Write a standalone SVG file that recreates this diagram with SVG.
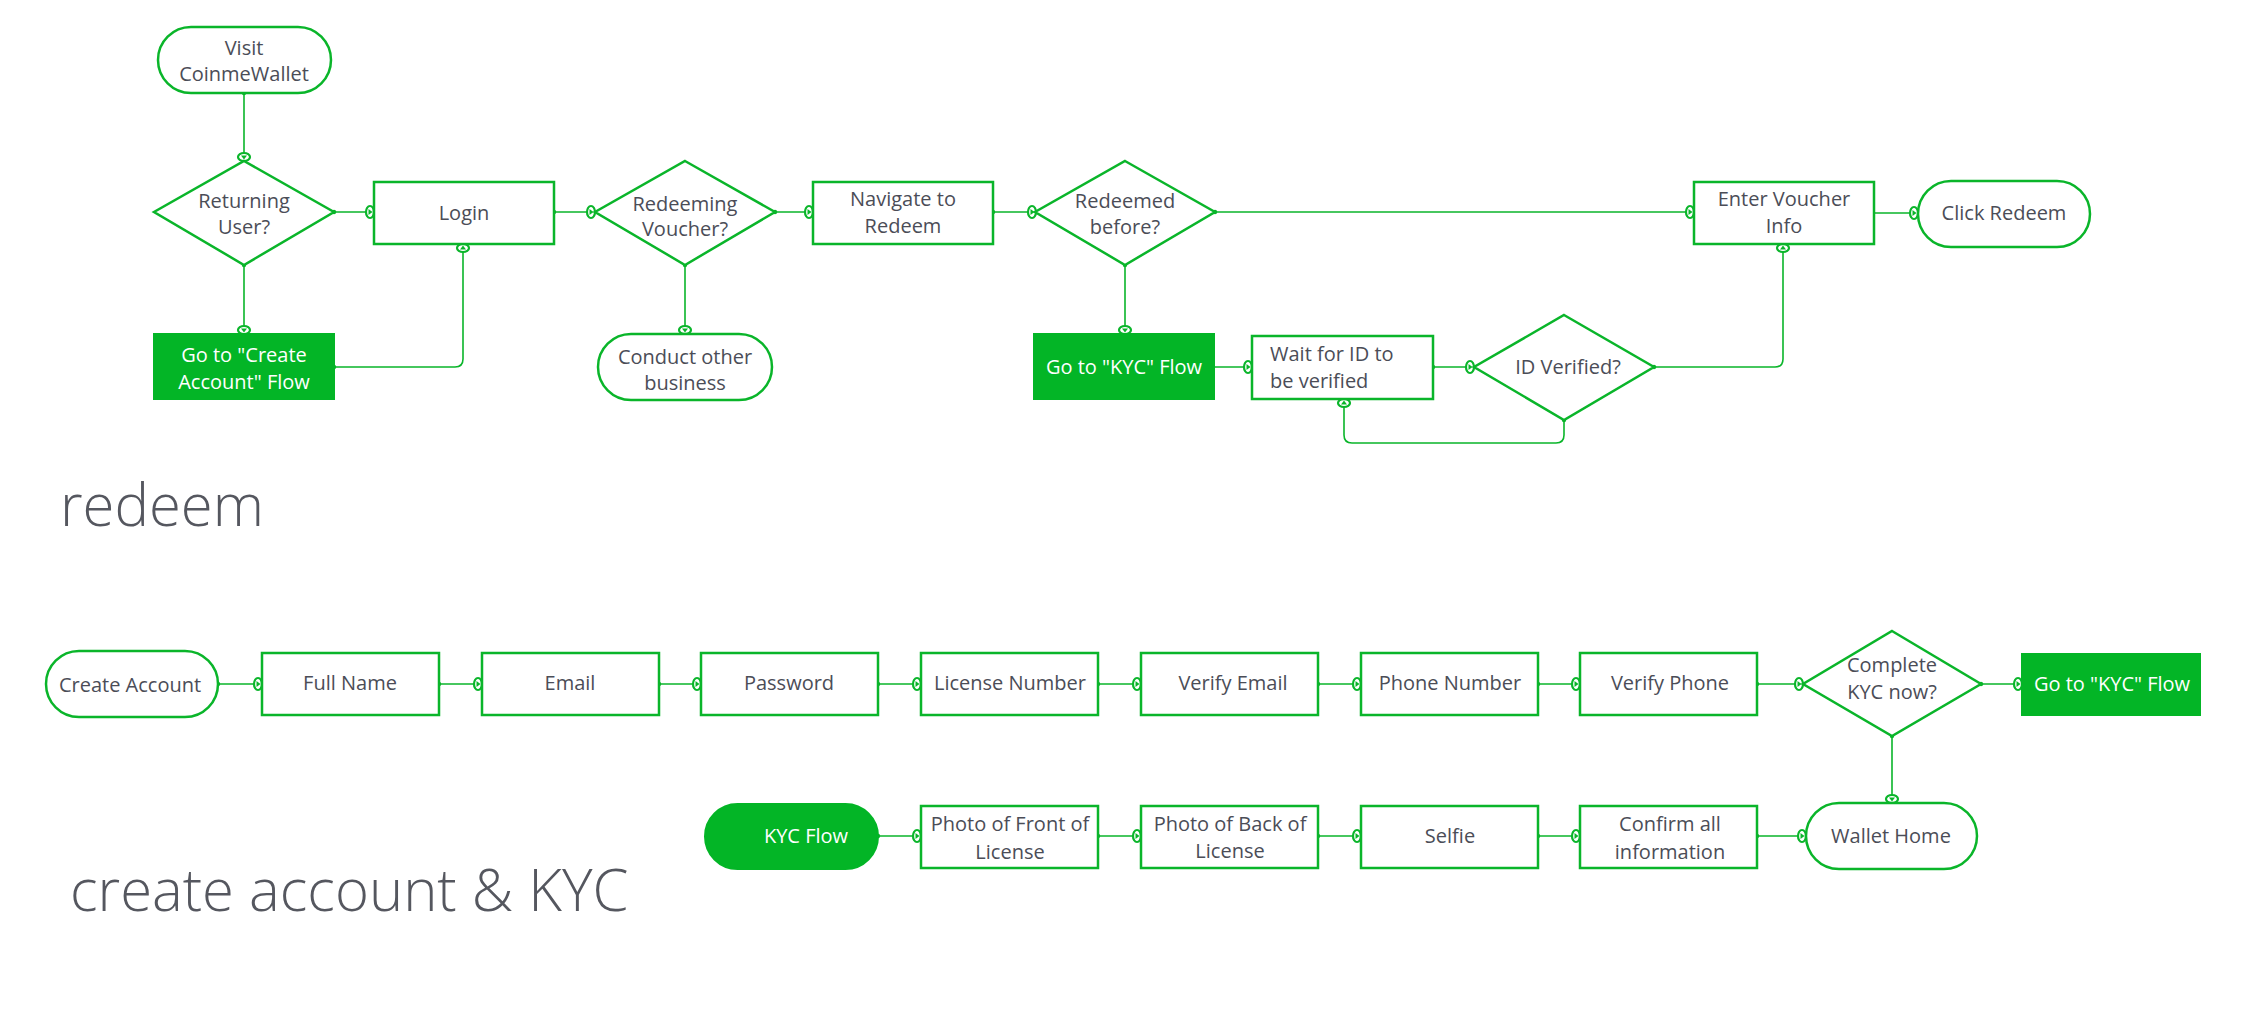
<svg xmlns="http://www.w3.org/2000/svg" width="2249" height="1019" viewBox="0 0 2249 1019">
<style>
.n{fill:#fff;stroke:#0ab52a;stroke-width:2.5}
.f{fill:#03b526;stroke:#03b526;stroke-width:2}
.t{font-family:"Open Sans","Liberation Sans",sans-serif;font-size:20px;fill:#4b4d57;text-anchor:middle}
.w{fill:#fff}
.h{font-family:"Open Sans","Liberation Sans",sans-serif;font-weight:300;font-size:58px;fill:#55575f}
#edges path{fill:none;stroke:#0ab52a;stroke-width:1.6;marker-start:url(#dot);marker-end:url(#arr)}
</style>
<defs>
<marker id="dot" viewBox="-3 -3 6 6" markerWidth="6" markerHeight="6" markerUnits="userSpaceOnUse" orient="auto"><circle r="2.2" fill="#0ab52a"/></marker>
<marker id="arr" viewBox="-8 -8 16 16" markerWidth="16" markerHeight="16" markerUnits="userSpaceOnUse" orient="auto" refX="0" refY="0"><ellipse cx="0" cy="0" rx="4" ry="6" fill="#fff" stroke="#0ab52a" stroke-width="2.2"/><path d="M-1.5,-3 L2.5,0 L-1.5,3 Z" fill="#0ab52a"/></marker>
</defs>
<g id="edges">
<path d="M244,93 V157"/>
<path d="M334,212 H370"/>
<path d="M244,265 V330"/>
<path d="M334,367 H455 Q463,367 463,359 V248"/>
<path d="M554,212 H591"/>
<path d="M685,265 V330"/>
<path d="M775,212 H809"/>
<path d="M993,212 H1032"/>
<path d="M1215,212 H1690"/>
<path d="M1125,265 V330"/>
<path d="M1213,367 H1248"/>
<path d="M1433,367 H1470"/>
<path d="M1654,367 H1775 Q1783,367 1783,359 V248"/>
<path d="M1564,420 V435 Q1564,443 1556,443 H1352 Q1344,443 1344,435 V403"/>
<path d="M1873,213 H1914"/>
<path d="M218,684 H258"/>
<path d="M439,684 H478"/>
<path d="M659,684 H697"/>
<path d="M878,684 H917"/>
<path d="M1098,684 H1137"/>
<path d="M1318,684 H1357"/>
<path d="M1538,684 H1576"/>
<path d="M1757,684 H1799"/>
<path d="M1981,684 H2018"/>
<path d="M1892,736 V799"/>
<path d="M878,836 H917"/>
<path d="M1098,836 H1137"/>
<path d="M1318,836 H1357"/>
<path d="M1538,836 H1576"/>
<path d="M1757,836 H1802"/>
</g>
<g id="visit"><rect class="n" x="158" y="27" width="173" height="66" rx="33"/><text class="t" x="244" y="55">Visit</text><text class="t" x="244" y="81">CoinmeWallet</text></g>
<g id="returning"><path class="n" d="M244,161 L334,212 L244,265 L154,212 Z"/><text class="t" x="244" y="208">Returning</text><text class="t" x="244" y="234">User?</text></g>
<g id="login"><rect class="n" x="374" y="182" width="180" height="62"/><text class="t" x="464" y="220">Login</text></g>
<g id="redeeming"><path class="n" d="M685,161 L775,212 L685,265 L595,212 Z"/><text class="t" x="685" y="211">Redeeming</text><text class="t" x="685" y="236">Voucher?</text></g>
<g id="navigate"><rect class="n" x="813" y="182" width="180" height="62"/><text class="t" x="903" y="206">Navigate to</text><text class="t" x="903" y="233">Redeem</text></g>
<g id="redeemed"><path class="n" d="M1125,161 L1215,212 L1125,265 L1035,212 Z"/><text class="t" x="1125" y="208">Redeemed</text><text class="t" x="1125" y="234">before?</text></g>
<g id="enter"><rect class="n" x="1694" y="182" width="180" height="62"/><text class="t" x="1784" y="206">Enter Voucher</text><text class="t" x="1784" y="233">Info</text></g>
<g id="click"><rect class="n" x="1918" y="181" width="172" height="66" rx="33"/><text class="t" x="2004" y="220">Click Redeem</text></g>
<g id="gocreate"><rect class="f" x="154" y="334" width="180" height="65"/><text class="t w" x="244" y="362">Go to "Create</text><text class="t w" x="244" y="389">Account" Flow</text></g>
<g id="conduct"><rect class="n" x="598" y="334" width="174" height="66" rx="33"/><text class="t" x="685" y="364">Conduct other</text><text class="t" x="685" y="390">business</text></g>
<g id="gokyc1"><rect class="f" x="1034" y="334" width="180" height="65"/><text class="t w" x="1124" y="374">Go to "KYC" Flow</text></g>
<g id="wait"><rect class="n" x="1252" y="336" width="181" height="63"/><text class="t" x="1334" y="361" style="text-anchor:start" dx="-64">Wait for ID to</text><text class="t" x="1270" y="388" style="text-anchor:start">be verified</text></g>
<g id="idverified"><path class="n" d="M1564,315 L1654,367 L1564,420 L1474,367 Z"/><text class="t" x="1568" y="374">ID Verified?</text></g>
<text class="h" x="60" y="526">redeem</text>
<g id="createacc"><rect class="n" x="46" y="651" width="172" height="66" rx="33"/><text class="t" x="130" y="692">Create Account</text></g>
<g id="fullname"><rect class="n" x="262" y="653" width="177" height="62"/><text class="t" x="350" y="690">Full Name</text></g>
<g id="email"><rect class="n" x="482" y="653" width="177" height="62"/><text class="t" x="570" y="690">Email</text></g>
<g id="password"><rect class="n" x="701" y="653" width="177" height="62"/><text class="t" x="789" y="690">Password</text></g>
<g id="license"><rect class="n" x="921" y="653" width="177" height="62"/><text class="t" x="1010" y="690">License Number</text></g>
<g id="verifyemail"><rect class="n" x="1141" y="653" width="177" height="62"/><text class="t" x="1233" y="690">Verify Email</text></g>
<g id="phone"><rect class="n" x="1361" y="653" width="177" height="62"/><text class="t" x="1450" y="690">Phone Number</text></g>
<g id="verifyphone"><rect class="n" x="1580" y="653" width="177" height="62"/><text class="t" x="1670" y="690">Verify Phone</text></g>
<g id="complete"><path class="n" d="M1892,631 L1981,684 L1892,736 L1803,684 Z"/><text class="t" x="1892" y="672">Complete</text><text class="t" x="1892" y="699">KYC now?</text></g>
<g id="gokyc2"><rect class="f" x="2022" y="654" width="178" height="61"/><text class="t w" x="2112" y="691">Go to "KYC" Flow</text></g>
<g id="kycflow"><rect class="f" x="705" y="804" width="173" height="65" rx="32.5"/><text class="t w" x="806" y="843">KYC Flow</text></g>
<g id="front"><rect class="n" x="921" y="806" width="177" height="62"/><text class="t" x="1010" y="831">Photo of Front of</text><text class="t" x="1010" y="859">License</text></g>
<g id="back"><rect class="n" x="1141" y="806" width="177" height="62"/><text class="t" x="1230" y="831">Photo of Back of</text><text class="t" x="1230" y="858">License</text></g>
<g id="selfie"><rect class="n" x="1361" y="806" width="177" height="62"/><text class="t" x="1450" y="843">Selfie</text></g>
<g id="confirm"><rect class="n" x="1580" y="806" width="177" height="62"/><text class="t" x="1670" y="831">Confirm all</text><text class="t" x="1670" y="859">information</text></g>
<g id="wallet"><rect class="n" x="1806" y="803" width="171" height="66" rx="33"/><text class="t" x="1891" y="843">Wallet Home</text></g>
<text class="h" x="70" y="911">create account &amp; KYC</text>
</svg>
